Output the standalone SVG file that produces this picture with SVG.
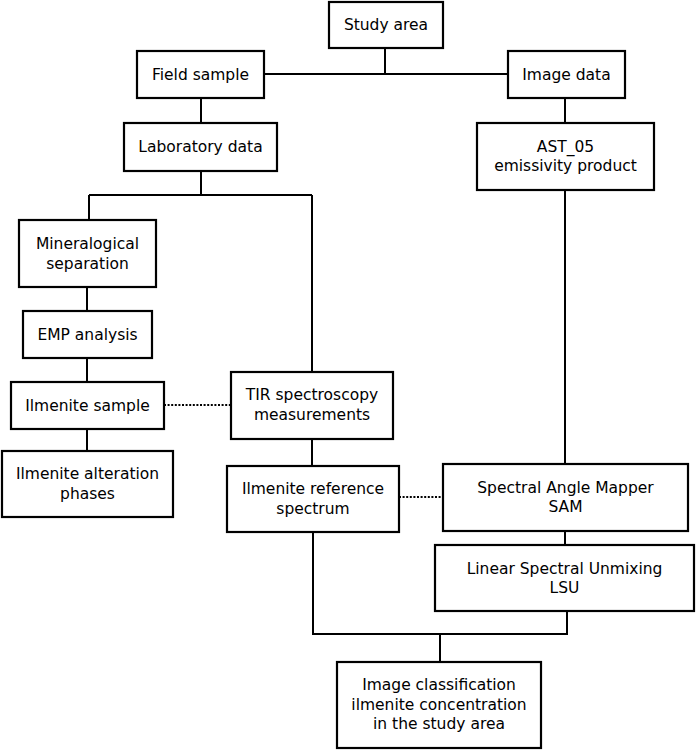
<svg xmlns="http://www.w3.org/2000/svg" width="696" height="750" viewBox="0 0 696 750">
<style>
.box{fill:#fff;stroke:#000;stroke-width:2.2}
.ln{fill:none;stroke:#000;stroke-width:2}
.dot{fill:none;stroke:#000;stroke-width:2;stroke-dasharray:2 1.6}
text{font-family:"DejaVu Sans",sans-serif;font-size:15.5px;fill:#000;text-anchor:middle}
</style>
<rect width="696" height="750" fill="#fff"/>
<g id="connectors">
<path class="ln" d="M385,48V74M264,74H508"/>
<path class="ln" d="M201,98V123"/>
<path class="ln" d="M565,98V123"/>
<path class="ln" d="M201,171V195M89,195H312M89,195V220M312,195V372"/>
<path class="ln" d="M565,190V464"/>
<path class="ln" d="M87,287V311"/>
<path class="ln" d="M87,358V382"/>
<path class="ln" d="M87,429V451"/>
<path class="ln" d="M312,439V466"/>
<path class="ln" d="M565,531V545"/>
<path class="ln" d="M313,532V634H567V611"/>
<path class="ln" d="M440,634V662"/>
<path class="dot" d="M164,405H231"/>
<path class="dot" d="M399,497H443"/>
</g>
<g id="study-area"><rect class="box" x="329" y="2" width="114" height="46"/><text x="386" y="30">Study area</text></g>
<g id="field-sample"><rect class="box" x="137" y="51" width="127" height="47"/><text x="200.5" y="80">Field sample</text></g>
<g id="image-data"><rect class="box" x="508" y="51" width="117" height="47"/><text x="566.5" y="80">Image data</text></g>
<g id="laboratory-data"><rect class="box" x="124" y="123" width="153" height="48"/><text x="200.5" y="152">Laboratory data</text></g>
<g id="ast05"><rect class="box" x="477" y="123" width="177" height="67"/><text x="565.5" y="152">AST_05</text><text x="565.5" y="171">emissivity product</text></g>
<g id="mineralogical-separation"><rect class="box" x="19" y="220" width="137" height="67"/><text x="87.5" y="249">Mineralogical</text><text x="87.5" y="269">separation</text></g>
<g id="emp-analysis"><rect class="box" x="23" y="311" width="129" height="47"/><text x="87.5" y="340">EMP analysis</text></g>
<g id="ilmenite-sample"><rect class="box" x="11" y="382" width="153" height="47"/><text x="87.5" y="411">Ilmenite sample</text></g>
<g id="ilmenite-alteration"><rect class="box" x="2" y="451" width="171" height="66"/><text x="87.5" y="479">Ilmenite alteration</text><text x="87.5" y="499">phases</text></g>
<g id="tir-spectroscopy"><rect class="box" x="231" y="372" width="162" height="67"/><text x="312" y="400">TIR spectroscopy</text><text x="312" y="420">measurements</text></g>
<g id="ilmenite-reference"><rect class="box" x="227" y="466" width="172" height="66"/><text x="313" y="494">Ilmenite reference</text><text x="313" y="514">spectrum</text></g>
<g id="sam"><rect class="box" x="443" y="464" width="245" height="67"/><text x="565.5" y="493">Spectral Angle Mapper</text><text x="565.5" y="512">SAM</text></g>
<g id="lsu"><rect class="box" x="435" y="545" width="259" height="66"/><text x="564.5" y="574">Linear Spectral Unmixing</text><text x="564.5" y="593">LSU</text></g>
<g id="image-classification"><rect class="box" x="337" y="662" width="204" height="86"/><text x="439" y="690">Image classification</text><text x="439" y="710">ilmenite concentration</text><text x="439" y="729">in the study area</text></g>
</svg>
